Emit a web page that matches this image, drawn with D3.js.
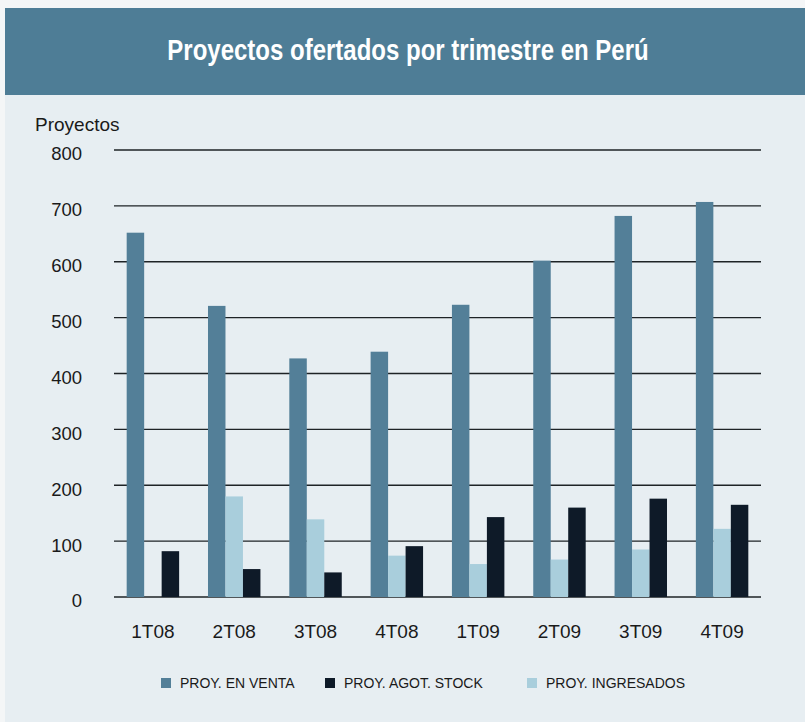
<!DOCTYPE html>
<html lang="es">
<head>
  <meta charset="UTF-8">
  <title>Proyectos ofertados por trimestre en Perú</title>
  <script src="https://d3js.org/d3.v7.min.js"></script>
  <style>
    body {
      margin: 0;
      background: #f4f6f7;
      font-family: "Liberation Sans", Arial, sans-serif;
    }
    .grid line {
      stroke: #1e2326;
      stroke-width: 1.3;
    }
  </style>
</head>
<body>
  <div id="chart"></div>

  <script>
    const quarters = ["1T08", "2T08", "3T08", "4T08", "1T09", "2T09", "3T09", "4T09"];
    const enVenta = [652, 521, 427, 439, 523, 602, 682, 707];
    const ingresados = [0, 180, 139, 74, 59, 67, 85, 122];
    const agotStock = [82, 50, 44, 91, 143, 160, 176, 165];
    const yTicks = [0, 100, 200, 300, 400, 500, 600, 700, 800];

    const seriesNames = ["PROY. EN VENTA", "PROY. AGOT. STOCK", "PROY. INGRESADOS"];
    const seriesColors = { venta: "#537f98", agot: "#0e1a28", ingr: "#a9cedc" };

    const width = 805, height = 722;
    const margin = { top: 150, right: 44, bottom: 125, left: 114 };

    const svg = d3.select("#chart").append("svg")
      .attr("width", width)
      .attr("height", height);

    // panel background and title band
    svg.append("rect")
      .attr("x", 5).attr("y", 8)
      .attr("width", width - 5).attr("height", height - 8)
      .attr("fill", "#e7eef2");
    svg.append("rect")
      .attr("x", 5).attr("y", 8)
      .attr("width", width - 5).attr("height", 87)
      .attr("fill", "#4e7d96");
    svg.append("text")
      .attr("transform", "translate(408,60) scale(1,1.2)")
      .attr("text-anchor", "middle")
      .attr("fill", "#ffffff")
      .attr("font-size", 24)
      .attr("font-weight", "bold")
      .text("Proyectos ofertados por trimestre en Perú");

    const x = d3.scaleBand()
      .domain(quarters)
      .range([margin.left, width - margin.right])
      .paddingInner(0.355)
      .paddingOuter(0.156);

    // bar order inside a group: venta, ingresados, agot
    const sub = d3.scaleBand()
      .domain(["venta", "ingr", "agot"])
      .range([0, x.bandwidth()]);

    const y = d3.scaleLinear()
      .domain([0, 800])
      .range([height - margin.bottom, margin.top]);

    svg.append("g")
      .attr("class", "grid")
      .selectAll("line")
      .data(yTicks)
      .enter().append("line")
      .attr("x1", margin.left)
      .attr("x2", width - margin.right)
      .attr("y1", d => y(d))
      .attr("y2", d => y(d));

    svg.append("g")
      .selectAll("text")
      .data(yTicks)
      .enter().append("text")
      .attr("x", 82)
      .attr("y", d => y(d) + 4)
      .attr("dy", "0.35em")
      .attr("text-anchor", "end")
      .attr("font-size", 18.5)
      .attr("fill", "#1a1a1a")
      .text(d => d);

    svg.append("text")
      .attr("x", 35).attr("y", 131)
      .attr("font-size", 19)
      .attr("fill", "#1a1a1a")
      .text("Proyectos");

    const rows = quarters.map((q, i) => ({
      q: q,
      values: [
        { key: "venta", v: enVenta[i] },
        { key: "ingr", v: ingresados[i] },
        { key: "agot", v: agotStock[i] }
      ]
    }));

    const groups = svg.append("g")
      .selectAll("g")
      .data(rows)
      .enter().append("g")
      .attr("transform", d => `translate(${x(d.q)},0)`);

    groups.selectAll("rect")
      .data(d => d.values.filter(v => v.v > 0))
      .enter().append("rect")
      .attr("x", d => sub(d.key))
      .attr("width", sub.bandwidth())
      .attr("y", d => y(d.v))
      .attr("height", d => y(0) - y(d.v))
      .attr("fill", d => seriesColors[d.key]);

    svg.append("g")
      .selectAll("text")
      .data(quarters)
      .enter().append("text")
      .attr("x", d => x(d) + x.bandwidth() / 2)
      .attr("y", 638)
      .attr("text-anchor", "middle")
      .attr("font-size", 19)
      .attr("fill", "#1a1a1a")
      .text(d => d);

    // legend
    const legendItems = [
      { name: seriesNames[0], color: seriesColors.venta, x: 161 },
      { name: seriesNames[1], color: seriesColors.agot, x: 325 },
      { name: seriesNames[2], color: seriesColors.ingr, x: 527 }
    ];
    const legend = svg.append("g")
      .selectAll("g")
      .data(legendItems)
      .enter().append("g")
      .attr("transform", d => `translate(${d.x},678)`);
    legend.append("rect")
      .attr("width", 10).attr("height", 10)
      .attr("fill", d => d.color);
    legend.append("text")
      .attr("x", 19).attr("y", 10)
      .attr("font-size", 14)
      .attr("fill", "#1a1a1a")
      .text(d => d.name);
  </script>
</body>
</html>
